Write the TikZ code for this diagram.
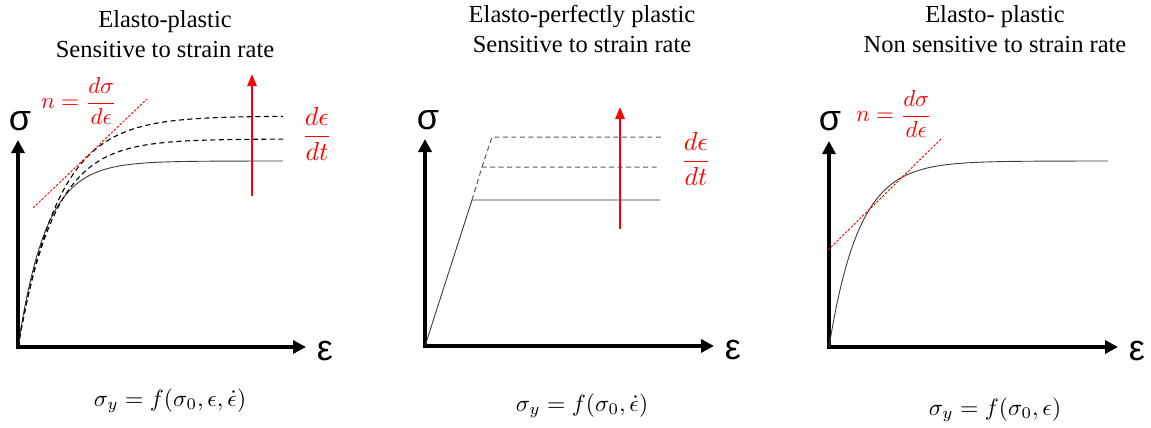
\documentclass[tikz,border=0pt]{standalone}
\usepackage{graphicx}
\usepackage[no-math]{fontspec}
\setmainfont{Liberation Serif}
\newfontfamily\axisfont{Liberation Sans}
\usetikzlibrary{arrows.meta}
\definecolor{rd}{RGB}{255,0,0}
\definecolor{gy}{RGB}{90,90,90}
\definecolor{dk}{RGB}{60,60,60}
\newcommand\mthbig[2]{\scalebox{#1}{$\displaystyle #2$}}
\begin{document}
\begin{tikzpicture}[x=1pt,y=-1pt,
  axis/.style={line width=4pt,-{Triangle[length=13pt,width=13pt]}},
  axlab/.style={inner sep=0pt,font=\axisfont\fontsize{36}{36}\selectfont},
  title/.style={align=center,inner sep=0pt,font=\fontsize{24.5}{30}\selectfont},
  formula/.style={inner sep=0pt},
  redlab/.style={inner sep=0pt,text=rd},
  curve/.style={line width=0.9pt},
  dcurve/.style={line width=1.1pt,dash pattern=on 5pt off 3.5pt},
  gdash/.style={line width=1pt,gy,dash pattern=on 5pt off 3.5pt},
  tangent/.style={rd,line width=0.9pt,dash pattern=on 2.5pt off 1.5pt},
  raterr/.style={rd,line width=2.6pt,-{Triangle[length=12pt,width=9pt]}}]
\useasboundingbox (0,0) rectangle (1151,428);
% ---------------- panel 1 ----------------
\node[title] (t1) at (165,34) {Elasto-plastic\\Sensitive to strain rate};
\coordinate (o1) at (18,347);
\coordinate (y1) at (18,140);
\coordinate (x1) at (306,347);
\draw[axis] ([yshift=2pt]o1) -- (y1);
\draw[axis] ([xshift=-2pt]o1) -- (x1);
\node[axlab] (s1) at (20,121) {σ};
\node[axlab] (e1) at (325,351) {ε};
\draw[curve,dk] plot[domain=0:265,samples=140] ({18+\x},{347-186*(1-exp(-\x/28))});
\draw[dcurve] plot[domain=0:265,samples=140] ({18+\x},{347-231*(1-exp(-\x/40))});
\draw[dcurve] plot[domain=0:265,samples=140] ({18+\x},{347-208*(1-exp(-\x/36))});
\coordinate (ta1) at (33,208);
\coordinate (tb1) at (147,99);
\draw[tangent] (ta1) -- (tb1);
\node[redlab] (n1) at (79,101) {\mthbig{2.3}{n=\frac{d\sigma}{d\epsilon}}};
\coordinate (ra1) at (252,196);
\coordinate (rb1) at (252,74);
\draw[raterr] (ra1) -- (rb1);
\node[redlab] (r1) at (317,134) {\mthbig{2.6}{\frac{d\epsilon}{dt}}};
\node[formula] (f1) at (170,401) {\mthbig{2.35}{\sigma_y=f(\sigma_0,\epsilon,\dot{\epsilon})}};
% ---------------- panel 2 ----------------
\node[title] (t2) at (582,29) {Elasto-perfectly plastic\\Sensitive to strain rate};
\coordinate (o2) at (425,346);
\coordinate (y2) at (425,139);
\coordinate (x2) at (714,346);
\draw[axis] ([yshift=2pt]o2) -- (y2);
\draw[axis] ([xshift=-2pt]o2) -- (x2);
\node[axlab] (s2) at (428,120) {σ};
\node[axlab] (e2) at (733,350) {ε};
\coordinate (k0) at (472,200);
\coordinate (k1) at (482,167);
\coordinate (k2) at (492,137);
\coordinate (h0) at (660,200);
\coordinate (h1) at (660,167);
\coordinate (h2) at (662,137);
\draw[curve,dk] (o2) -- (k0) -- (h0);
\draw[gdash] (k0) -- (k1) -- (h1);
\draw[gdash] (k1) -- (k2) -- (h2);
\coordinate (ra2) at (620,229);
\coordinate (rb2) at (620,107);
\draw[raterr] (ra2) -- (rb2);
\node[redlab] (r2) at (696,159) {\mthbig{2.6}{\frac{d\epsilon}{dt}}};
\node[formula] (f2) at (582,406) {\mthbig{2.35}{\sigma_y=f(\sigma_0,\dot{\epsilon})}};
% ---------------- panel 3 ----------------
\node[title] (t3) at (995,29) {Elasto- plastic\\Non sensitive to strain rate};
\coordinate (o3) at (829,347);
\coordinate (y3) at (829,141);
\coordinate (x3) at (1118,347);
\draw[axis] ([yshift=2pt]o3) -- (y3);
\draw[axis] ([xshift=-2pt]o3) -- (x3);
\node[axlab] (s3) at (830,121) {σ};
\node[axlab] (e3) at (1137,351) {ε};
\draw[curve,dk] plot[domain=0:279,samples=140] ({829+\x},{347-186*(1-exp(-\x/30))});
\coordinate (ta3) at (828,250);
\coordinate (tb3) at (942,138);
\draw[tangent] (ta3) -- (tb3);
\node[redlab] (n3) at (894,114) {\mthbig{2.3}{n=\frac{d\sigma}{d\epsilon}}};
\node[formula] (f3) at (995,410) {\mthbig{2.35}{\sigma_y=f(\sigma_0,\epsilon)}};
\end{tikzpicture}
\end{document}
